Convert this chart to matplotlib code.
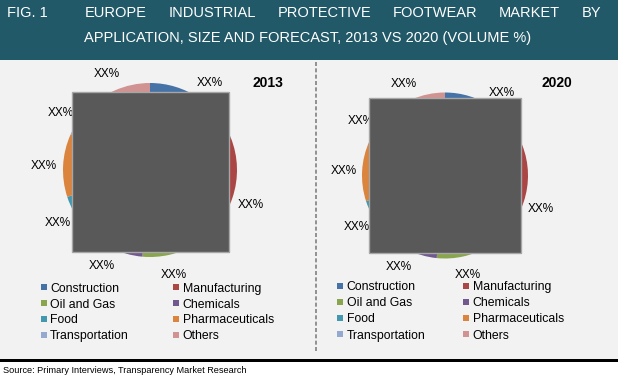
import matplotlib
matplotlib.use("Agg")
import numpy as np
import matplotlib.pyplot as plt
from matplotlib.patches import Rectangle

# Дані графіка
categories = ['Construction', 'Manufacturing', 'Oil and Gas', 'Chemicals',
              'Food', 'Pharmaceuticals', 'Transportation', 'Others']
share_2013 = [18.9, 22.5, 10.0, 12.2, 6.4, 11.7, 5.0, 13.3]
share_2020 = [19.0, 22.3, 10.3, 12.0, 6.4, 11.8, 5.0, 13.2]
pie_labels = ['XX%'] * len(categories)
colors = ['#4572A7', '#AA4643', '#89A54E', '#71588F',
          '#4198AF', '#DB843D', '#93A9CF', '#D19392']

fig_label = 'FIG. 1'
title_line1 = ['EUROPE', 'INDUSTRIAL', 'PROTECTIVE', 'FOOTWEAR', 'MARKET', 'BY']
title_line2 = 'APPLICATION, SIZE AND FORECAST, 2013 VS 2020 (VOLUME %)'
source_text = 'Source: Primary Interviews, Transparency Market Research'

W, H = 618, 377
plt.rcParams['font.family'] = ['Liberation Sans', 'DejaVu Sans']

fig = plt.figure(figsize=(W / 100, H / 100), dpi=100)
ax = fig.add_axes([0, 0, 1, 1])
ax.set_xlim(0, W)
ax.set_ylim(H, 0)
ax.axis('off')

# Фон: шапка, панель, лінія
ax.add_patch(Rectangle((0, 0), W, 60, facecolor='#215968', edgecolor='none', zorder=0))
ax.add_patch(Rectangle((0, 60), W, 299, facecolor='#F2F2F2', edgecolor='none', zorder=0))
ax.add_patch(Rectangle((0, 359), W, 3, facecolor='black', edgecolor='none', zorder=0))

# Заголовок (перший рядок вирівняний по ширині)
ax.text(7, 16.7, fig_label, fontsize=10.5, color='white', va='baseline', ha='left')
renderer = fig.canvas.get_renderer()
widths = []
for word in title_line1:
    t = ax.text(0, 0, word, fontsize=10.5)
    widths.append(t.get_window_extent(renderer).width)
    t.remove()
left, right = 85, 601
gap = (right - left - sum(widths)) / (len(widths) - 1)
x = left
for word, wd in zip(title_line1, widths):
    ax.text(x, 16.7, word, fontsize=10.5, color='white', va='baseline', ha='left')
    x += wd + gap
ax.text(84, 42.3, title_line2, fontsize=10.5, color='white', va='baseline', ha='left')

# Пунктирний розділювач
ax.plot([316, 316], [62, 353], color='#808080', lw=1.2, ls=(0, (2.4, 1.4)), zorder=1)


def draw_pie(values, cx, cy, r, year, year_pos, box, legend_x, legend_y):
    wedges, texts = ax.pie(values, labels=pie_labels, colors=colors,
                           startangle=-90, counterclock=True,
                           center=(cx, cy), radius=r, labeldistance=1.22,
                           frame=True, wedgeprops=dict(linewidth=0),
                           textprops=dict(fontsize=8.5, color='black'))
    for t in texts:
        px, py = t.get_position()
        t.set_position((px, py + 4.2))
        t.set_ha('center')
        t.set_va('baseline')
        t.set_zorder(3)
    # сірий прямокутник поверх діаграми
    bx, by, bw, bh = box
    ax.add_patch(Rectangle((bx, by), bw, bh, facecolor='#595959',
                           edgecolor='#A6A6A6', lw=1, zorder=4))
    ax.text(year_pos[0], year_pos[1], year, fontsize=10, fontweight='bold',
            ha='center', va='baseline', zorder=5)
    # легенда
    for i, (name, col) in enumerate(zip(categories, colors)):
        lx = legend_x[i % 2]
        ly = legend_y[i // 2]
        ax.add_patch(Rectangle((lx, ly - 3), 6, 6, facecolor=col, edgecolor='none', zorder=5))
        ax.text(lx + 9.5, ly + 4.3, name, fontsize=8.8, ha='left', va='baseline', zorder=5)


draw_pie(share_2013, 150, 170, 87, '2013', (268, 87.3), (72, 92, 157, 160),
         (40.7, 173), (287.3, 303.3, 318.7, 334.7))
draw_pie(share_2020, 445, 175.5, 83, '2020', (557, 86.7), (369, 98, 152, 155),
         (337.3, 463.3), (285.7, 301.7, 317.7, 334.3))

ax.set_xlim(0, W)
ax.set_ylim(H, 0)
ax.set_aspect('auto')

# Джерело
ax.text(3.3, 373, source_text, fontsize=6.6, ha='left', va='baseline', color='black')

fig.savefig('out.png', dpi=100)
